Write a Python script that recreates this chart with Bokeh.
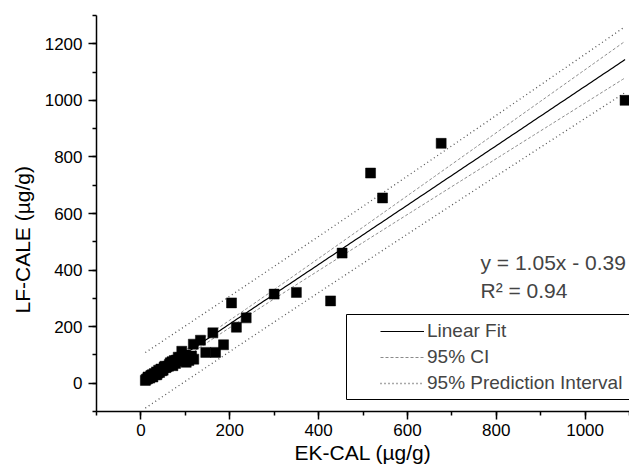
import numpy as np
from bokeh.plotting import figure
from bokeh.models import (Range1d, SingleIntervalTicker, Legend, LegendItem,
                          Label, BoxAnnotation)
from bokeh.embed import file_html
from bokeh.resources import INLINE

# ---- data ----
ek_cal = [10, 12, 15, 16, 18, 20, 22, 24, 26, 27, 30, 33, 35, 36, 38, 40, 42, 45,
          47, 50, 52, 54, 56, 58, 62, 64, 66, 68, 70, 72, 75, 78, 80, 84, 86, 88,
          92, 96, 98, 102, 108, 114, 118, 119, 134, 146, 162, 168, 186, 204, 215,
          237, 300, 350, 427, 453, 517, 544, 676, 1090]
lf_cale = [10, 14, 16, 22, 20, 18, 26, 28, 30, 22, 34, 30, 40, 30, 36, 46, 38, 50,
           44, 46, 56, 60, 55, 58, 60, 66, 72, 66, 76, 62, 80, 70, 82, 92, 78, 90,
           113, 88, 100, 74, 80, 96, 138, 85, 152, 109, 178, 109, 136, 284, 198,
           231, 315, 321, 291, 460, 743, 655, 848, 1000]

SLOPE = 1.05
INTERCEPT = -0.39
R_SQUARED = 0.94
T_CRIT = 2.0017  # two-sided 95 %, n-2 degrees of freedom

x_ticks_interval = 200
y_ticks_interval = 200

# ---- regression bands derived from the data ----
x = np.array(ek_cal, dtype=float)
y = np.array(lf_cale, dtype=float)
n = len(x)
resid = y - (SLOPE * x + INTERCEPT)
s = np.sqrt(np.sum(resid ** 2) / (n - 2))
xm = x.mean()
sxx = np.sum((x - xm) ** 2)
xl = np.linspace(x.min(), x.max(), 200)
yl = SLOPE * xl + INTERCEPT
se_fit = s * np.sqrt(1.0 / n + (xl - xm) ** 2 / sxx)
se_pred = s * np.sqrt(1.0 + 1.0 / n + (xl - xm) ** 2 / sxx)

FONT = "Liberation Sans"

p = figure(width=629, height=468, output_backend="svg", toolbar_location=None,
           x_range=Range1d(-100, 1100), y_range=Range1d(-100, 1300),
           min_border_left=96, min_border_right=0, min_border_top=15,
           min_border_bottom=57)
p.outline_line_color = None
p.grid.visible = False
p.background_fill_color = "white"
p.border_fill_color = "white"

p.xaxis.ticker = SingleIntervalTicker(interval=x_ticks_interval, num_minor_ticks=2)
p.yaxis.ticker = SingleIntervalTicker(interval=y_ticks_interval, num_minor_ticks=2)
for ax in (p.xaxis[0], p.yaxis[0]):
    ax.axis_line_color = "black"
    ax.axis_line_width = 1.5
    ax.major_tick_line_color = "black"
    ax.minor_tick_line_color = "black"
    ax.major_tick_line_width = 1.5
    ax.minor_tick_line_width = 1.5
    ax.major_tick_in = 0
    ax.major_tick_out = 8
    ax.minor_tick_in = 0
    ax.minor_tick_out = 4
    ax.major_label_text_font = FONT
    ax.major_label_text_font_size = "17px"
    ax.major_label_text_color = "black"
    ax.axis_label_text_font = FONT
    ax.axis_label_text_font_size = "21px"
    ax.axis_label_text_font_style = "normal"
    ax.axis_label_text_color = "black"

p.xaxis.axis_label = "EK-CAL (µg/g)"
# trailing no-break spaces move the visible label a little lower, as in the reference
p.yaxis.axis_label = "LF-CALE (µg/g)" + "\u00a0" * 9
p.xaxis.major_label_standoff = 4
p.yaxis.major_label_standoff = 6
p.xaxis.axis_label_standoff = 2
p.yaxis.axis_label_standoff = 8

# ---- bands and fit ----
pi_up = p.line(xl, yl + T_CRIT * se_pred, line_color="#555555", line_dash="1 3", line_width=1.3)
p.line(xl, yl - T_CRIT * se_pred, line_color="#555555", line_dash="1 3", line_width=1.3)
ci_up = p.line(xl, yl + T_CRIT * se_fit, line_color="#8a8a8a", line_dash="3 2", line_width=1)
p.line(xl, yl - T_CRIT * se_fit, line_color="#8a8a8a", line_dash="3 2", line_width=1)
fit = p.line(xl, yl, line_color="black", line_width=1.2)

p.scatter(ek_cal, lf_cale, marker="square", size=10, fill_color="black",
          line_color="black", line_width=0.5)

# ---- legend ----
legend = Legend(items=[LegendItem(label="Linear Fit", renderers=[fit]),
                       LegendItem(label="95% CI", renderers=[ci_up]),
                       LegendItem(label="95% Prediction Interval", renderers=[pi_up])],
                location=(284, 17), padding=0, margin=0, spacing=4,
                glyph_width=44, glyph_height=20, label_height=20, label_standoff=3,
                label_text_font=FONT, label_text_font_size="19px",
                border_line_alpha=0, background_fill_alpha=0)
p.add_layout(legend)

box = BoxAnnotation(left=250, right=533, top=97, bottom=12,
                    left_units="screen", right_units="screen",
                    top_units="screen", bottom_units="screen",
                    fill_alpha=0, line_color="black", line_width=1, line_alpha=1)
p.add_layout(box)

eq = Label(x=384, y=149, x_units="screen", y_units="screen",
           text=f"y = {SLOPE:.2f}x - {abs(INTERCEPT):.2f}",
           text_font=FONT, text_font_size="21px", text_baseline="middle")
r2 = Label(x=384, y=121, x_units="screen", y_units="screen",
           text=f"R² = {R_SQUARED:.2f}",
           text_font=FONT, text_font_size="21px", text_baseline="middle")
p.add_layout(eq)
p.add_layout(r2)

open("out.html", "w").write(file_html(p, INLINE))
